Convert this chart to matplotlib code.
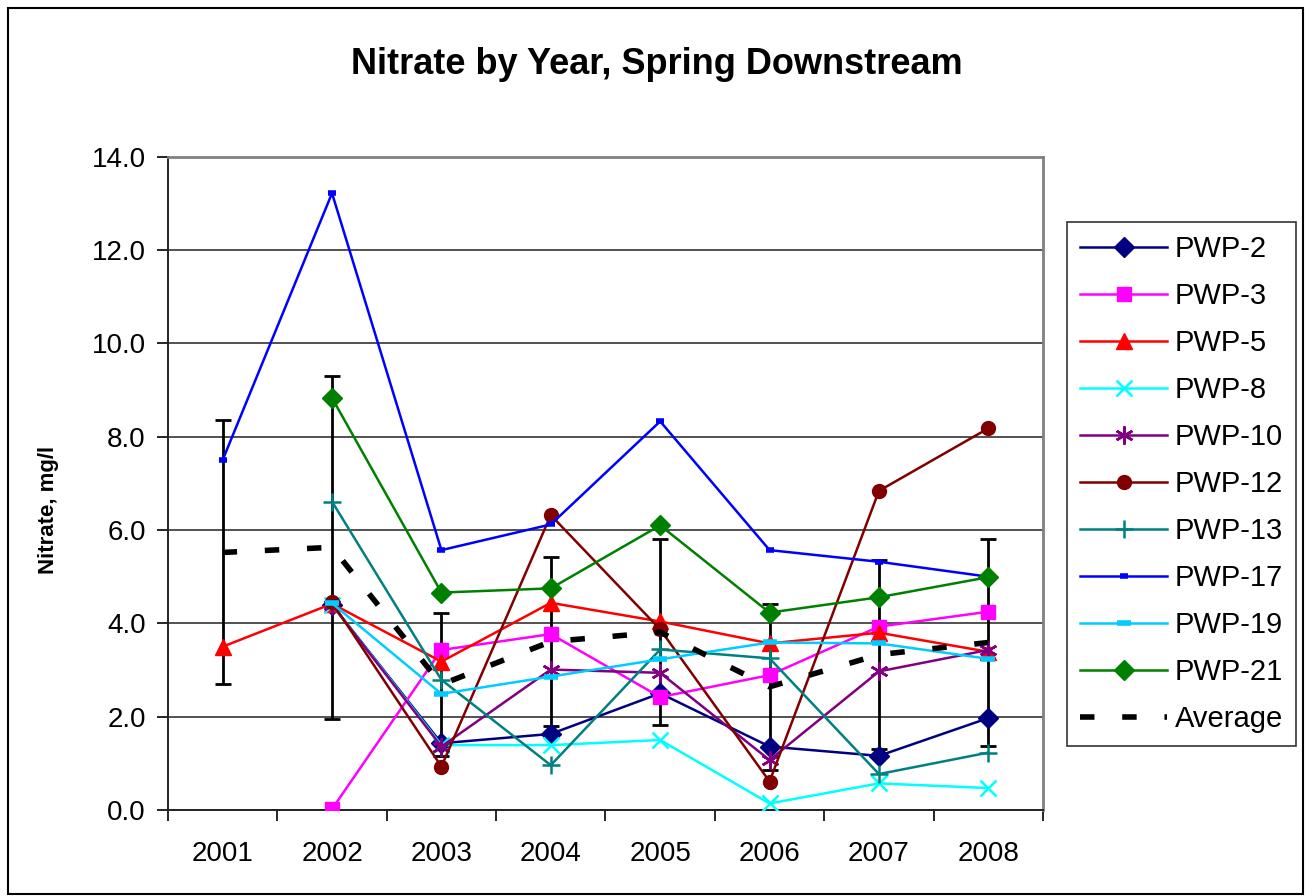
import numpy as np
import matplotlib.pyplot as plt
from matplotlib.patches import Rectangle

plt.rcParams['font.family'] = ['Liberation Sans', 'DejaVu Sans']

years = ['2001', '2002', '2003', '2004', '2005', '2006', '2007', '2008']
nan = np.nan

pwp2 = [nan, 4.40, 1.43, 1.63, 2.50, 1.36, 1.16, 1.97]
pwp3 = [nan, 0.02, 3.43, 3.77, 2.42, 2.89, 3.93, 4.25]
pwp5 = [3.50, 4.42, 3.18, 4.44, 4.04, 3.57, 3.80, 3.39]
pwp8 = [nan, 4.40, 1.39, 1.39, 1.50, 0.14, 0.57, 0.47]
pwp10 = [nan, 4.40, 1.36, 3.01, 2.94, 1.07, 2.97, 3.43]
pwp12 = [nan, 4.45, 0.93, 6.32, 3.87, 0.61, 6.84, 8.18]
pwp13 = [nan, 6.61, 2.79, 0.96, 3.44, 3.25, 0.77, 1.23]
pwp17 = [7.50, 13.22, 5.57, 6.12, 8.33, 5.57, 5.32, 5.00]
pwp19 = [nan, 4.43, 2.49, 2.86, 3.23, 3.59, 3.57, 3.24]
pwp21 = [nan, 8.83, 4.66, 4.75, 6.10, 4.23, 4.56, 4.99]

average = [5.52, 5.63, 2.69, 3.61, 3.81, 2.64, 3.33, 3.59]
avg_err = [2.83, 3.67, 1.53, 1.81, 1.99, 1.78, 2.03, 2.21]

fig = plt.figure(figsize=(13.12, 8.96), dpi=100)
ax = fig.add_axes([0.128, 0.096, 0.667, 0.729])

x = np.arange(len(years))

# error bars go behind the station lines
ax.errorbar(x, average, yerr=avg_err, fmt='none', ecolor='black',
            elinewidth=2, capsize=6, capthick=2, zorder=2)

series = [
    ('PWP-2', pwp2, '#000080', 'D', 10),
    ('PWP-3', pwp3, '#FF00FF', 's', 10),
    ('PWP-5', pwp5, '#FF0000', '^', 12),
    ('PWP-8', pwp8, '#00FFFF', 'x', 11),
    ('PWP-10', pwp10, '#800080', (6, 2, 0), 13),
    ('PWP-12', pwp12, '#800000', 'o', 10),
    ('PWP-13', pwp13, '#008080', '+', 13),
    ('PWP-17', pwp17, '#0000FF', '_', 6),
    ('PWP-19', pwp19, '#00CCFF', '_', 10),
    ('PWP-21', pwp21, '#008000', 'D', 10),
]

for name, vals, col, mk, ms in series:
    y = np.array(vals, dtype=float)
    ok = ~np.isnan(y)
    if mk in ('x', '+', (6, 2, 0)):
        mew = 1.8
    elif mk == '_':
        mew = 4
    else:
        mew = 1
    ax.plot(x[ok], y[ok], color=col, lw=1.8, marker=mk, ms=ms,
            mfc=col, mec=col, mew=mew, label=name, zorder=3)

ax.plot(x, average, color='black', lw=4, dashes=(2.6, 5.0),
        label='Average', zorder=4)

ax.set_xlim(-0.5, len(years) - 0.5)
ax.set_ylim(0, 14)
ax.set_yticks(np.arange(0, 14.1, 2))
ax.set_yticklabels(['%.1f' % v for v in np.arange(0, 14.1, 2)])
ax.set_xticks(x)
ax.set_xticklabels(years)
ax.set_xticks(np.arange(-0.5, len(years)), minor=True)
ax.tick_params(axis='x', which='major', length=0, pad=22, labelsize=20)
ax.tick_params(axis='x', which='minor', length=8, width=1.2, direction='out')
ax.tick_params(axis='y', length=8, width=1.2, direction='out', pad=8, labelsize=20)

ax.grid(axis='y', color='#333333', lw=1.2)
ax.set_axisbelow(True)
for s in ['top', 'right']:
    ax.spines[s].set_color('#808080')
    ax.spines[s].set_linewidth(2)
for s in ['left', 'bottom']:
    ax.spines[s].set_color('#222222')
    ax.spines[s].set_linewidth(1.4)

ax.set_ylabel('Nitrate, mg/l', fontsize=16, fontweight='bold')
ax.yaxis.set_label_coords(-0.125, 0.46)

fig.suptitle('Nitrate by Year, Spring Downstream', fontsize=26,
             fontweight='bold', x=0.501, y=0.947)

leg = ax.legend(loc='upper left', bbox_to_anchor=(0.813, 0.752),
                bbox_transform=fig.transFigure, fontsize=21, frameon=True,
                fancybox=False, edgecolor='black', handlelength=3.0,
                labelspacing=0.65, borderpad=0.45, handletextpad=0.25,
                borderaxespad=0)
leg.get_frame().set_linewidth(1.2)

fig.patches.append(Rectangle((8 / 1312, 2 / 896), 1295 / 1312, 886 / 896,
                             transform=fig.transFigure, fill=False,
                             edgecolor='black', lw=1.5))

fig.savefig('out.png', dpi=100)
